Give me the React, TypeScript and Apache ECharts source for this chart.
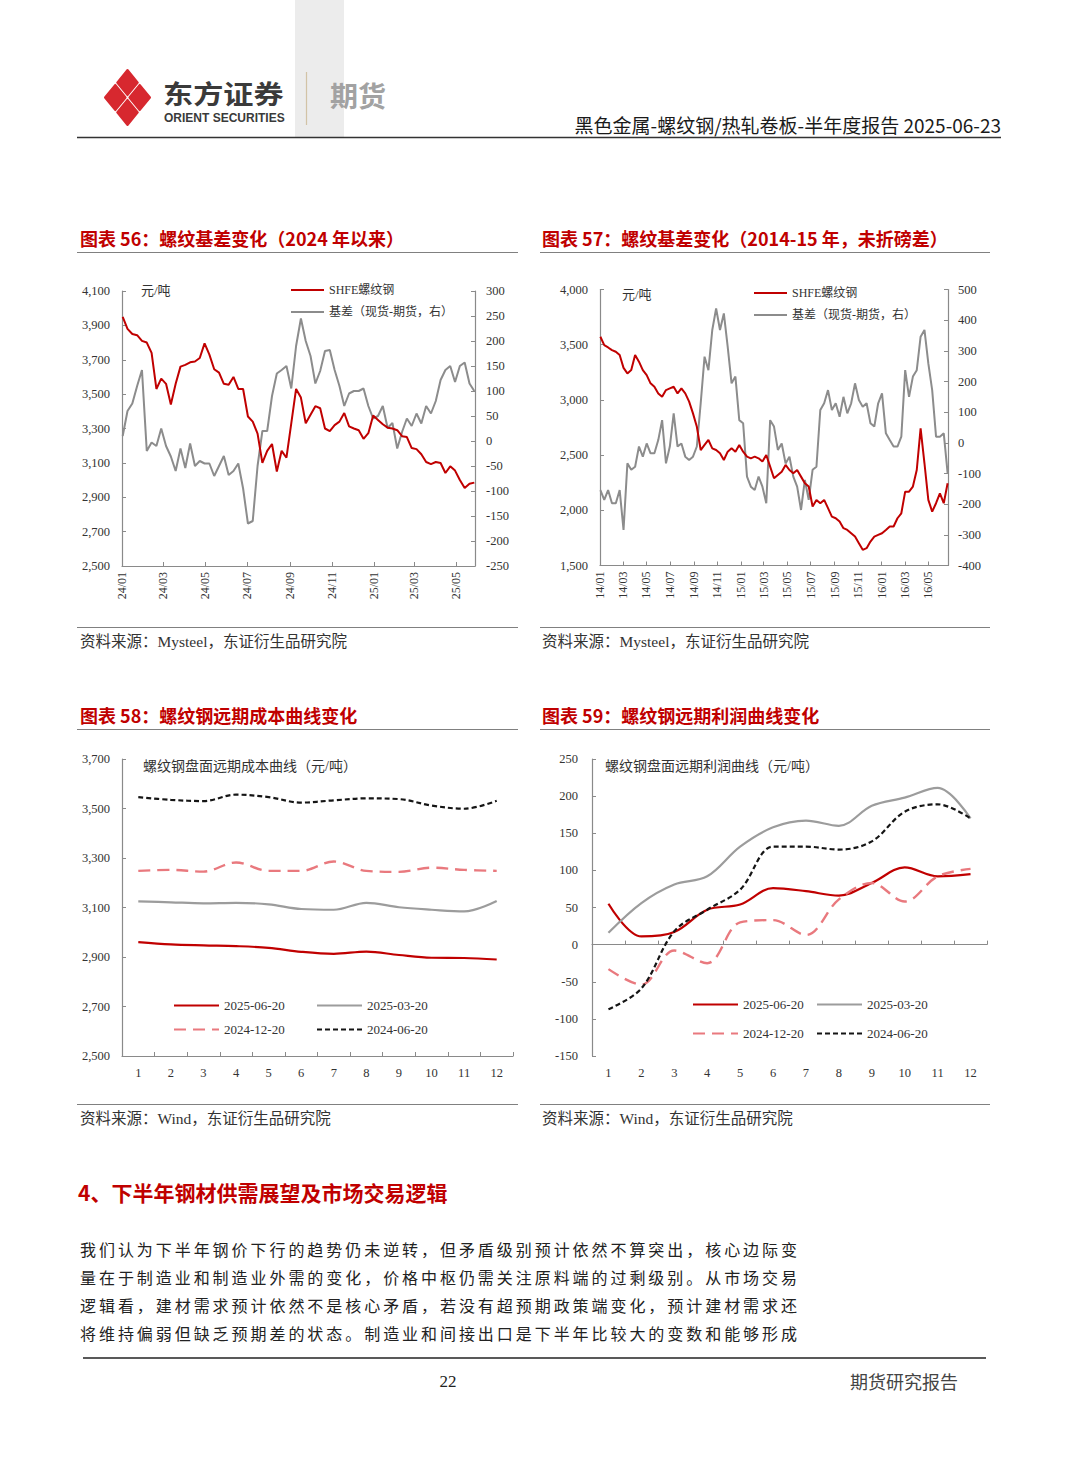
import React, { useEffect, useRef } from 'react';
import * as echarts from 'echarts';

const SERIF = "'Liberation Serif', 'Noto Sans CJK SC', serif";
const CJK = "'Noto Sans CJK SC', sans-serif";
const RED = '#C00000';
const GREY = '#8C8C8C';
const LIGHT_GREY = '#9C9C9C';
const PINK = '#E9797E';
const BLACK = '#151515';
const AXIS = '#8A8A8A';

// ---------- 图表56 (weekly, from 2024-01-02) ----------
const shfe56 = [3950,3880,3850,3843,3810,3800,3740,3530,3590,3560,
  3440,3560,3660,3670,3685,3690,3710,3795,3730,3645,
  3625,3560,3555,3600,3530,3530,3370,3340,3270,3100,
  3170,3210,3050,3170,3130,3330,3530,3480,3330,3380,
  3430,3418,3300,3285,3320,3340,3390,3312,3300,3290,
  3240,3273,3375,3350,3325,3305,3300,3290,3255,3250,
  3186,3180,3150,3105,3093,3105,3099,3041,3080,3055,
  3000,2954,2978,2985];
const basis56 = [10,60,75,110,142,-20,-3,-10,25,-10,
  -31,-60,-15,-54,-5,-50,-40,-45,-45,-70,
  -50,-30,-68,-60,-45,-95,-165,-160,-50,20,
  20,90,135,142,150,105,190,245,200,170,
  115,140,180,182,142,110,70,95,100,100,
  105,70,45,50,70,26,36,-15,18,45,
  30,55,35,70,55,80,122,142,150,118,
  150,157,115,100];
const ticks56 = ['2024-01','2024-03','2024-05','2024-07','2024-09','2024-11','2025-01','2025-03','2025-05'];

// ---------- 图表57 (every 10 days, from 2014-01-02) ----------
const shfe57 = [3572,3496,3475,3451,3436,3406,3290,3240,3270,3406,
  3346,3270,3225,3150,3119,3059,3029,3089,3104,3119,
  3059,3104,3059,2984,2878,2757,2546,2592,2637,2561,
  2546,2516,2456,2531,2561,2531,2592,2531,2486,2471,
  2486,2471,2441,2501,2396,2290,2320,2350,2411,2365,
  2335,2365,2305,2245,2215,2034,2094,2064,2094,2019,
  1943,1928,1898,1838,1822,1792,1762,1702,1642,1657,
  1717,1762,1777,1792,1822,1853,1853,1928,1973,2169,
  2169,2215,2365,2742,2426,2094,1988,2064,2154,2064,2245];
const basis57 = [-154,-186,-154,-197,-197,-154,-284,-67,-88,-78,
  -12,-45,-2,-34,-34,9,74,-67,-12,96,
  -12,-2,-45,-56,-45,-12,129,281,237,368,
  438,368,422,313,194,216,74,64,-110,-143,
  -154,-110,-143,-197,74,53,-23,-2,-67,-45,
  -110,-143,-219,-121,-186,-88,-78,107,129,172,
  107,129,85,150,96,129,194,140,118,129,
  64,53,129,161,31,9,-12,-12,20,237,
  150,216,237,346,368,259,172,20,20,31,-99];
const ticks57 = ['2014-01','2014-03','2014-05','2014-07','2014-09','2014-11','2015-01','2015-03','2015-05','2015-07','2015-09','2015-11','2016-01','2016-03','2016-05'];

// ---------- 图表58 / 59 ----------
const months = ['1','2','3','4','5','6','7','8','9','10','11','12'];
const curveNames = ['2025-06-20','2025-03-20','2024-12-20','2024-06-20'];
const cost20250620 = [2960,2951,2947,2944,2937,2921,2913,2922,2908,2897,2896,2890];
const cost20250320 = [3125,3121,3117,3119,3113,3094,3091,3119,3101,3091,3084,3126];
const cost20241220 = [3248,3252,3245,3282,3248,3248,3286,3248,3244,3261,3252,3248];
const cost20240620 = [3546,3535,3530,3556,3546,3524,3533,3541,3538,3512,3499,3531];
const profit20250620 = [55,11,17,47,54,76,72,66,83,104,92,95];
const profit20250320 = [16,56,81,92,132,158,167,160,187,198,211,170];
const profit20241220 = [-33,-54,-8,-25,30,33,13,61,83,58,92,102];
const profit20240620 = [-87,-59,18,47,74,132,132,128,139,179,189,170];

const paragraph = [
  '我们认为下半年钢价下行的趋势仍未逆转，但矛盾级别预计依然不算突出，核心边际变',
  '量在于制造业和制造业外需的变化，价格中枢仍需关注原料端的过剩级别。从市场交易',
  '逻辑看，建材需求预计依然不是核心矛盾，若没有超预期政策端变化，预计建材需求还',
  '将维持偏弱但缺乏预期差的状态。制造业和间接出口是下半年比较大的变数和能够形成',
];

const pad = (n: number) => (n < 10 ? '0' + n : '' + n);
function makeDates(y: number, m: number, d: number, step: number, n: number) {
  const out: string[] = [];
  for (let i = 0; i < n; i++) {
    const dt = new Date(y, m, d + i * step);
    out.push(`${dt.getFullYear()}-${pad(dt.getMonth() + 1)}-${pad(dt.getDate())}`);
  }
  return out;
}
const dayTs = (s: string) => {
  const [y, m, d] = s.split('-').map(Number);
  return new Date(y, m - 1, d || 1).getTime();
};
const fmtComma = (v: number) => v.toLocaleString('en-US');
const fmtYM = (v: number) => {
  const d = new Date(v);
  return String(d.getFullYear()).slice(2) + '/' + pad(d.getMonth() + 1);
};

const labelStyle = { fontFamily: SERIF, fontSize: 12.5, color: '#333' };

function valueAxis(gridIndex: number, position: string, min: number, max: number, interval: number, margin: number, comma: boolean) {
  const ax: any = {
    type: 'value', gridIndex, position, min, max, interval,
    axisLine: { show: true, onZero: false, lineStyle: { color: AXIS, width: 1.2 } },
    axisTick: { show: true, inside: true, length: 4, lineStyle: { color: AXIS } },
    splitLine: { show: false },
    axisLabel: { ...labelStyle, margin },
  };
  if (comma) ax.axisLabel.formatter = fmtComma;
  return ax;
}

// date axis drawn as a value axis of timestamps, ticks at month starts
function dateAxis(gridIndex: number, min: number, max: number, ticks: string[]) {
  const vals = ticks.map(dayTs);
  return {
    type: 'value', gridIndex, min, max, scale: true,
    axisLine: { show: true, onZero: false, lineStyle: { color: AXIS, width: 1.2 } },
    axisTick: { show: true, inside: true, length: 4, customValues: vals, lineStyle: { color: AXIS } },
    splitLine: { show: false },
    axisLabel: { ...labelStyle, fontSize: 12, rotate: 90, margin: 6, customValues: vals, formatter: fmtYM, hideOverlap: false },
  };
}

function legendItem(name: string, left: number, top: number, w: number, fontSize: number) {
  return {
    data: [name], left, top, orient: 'horizontal', padding: 0, itemGap: 0,
    itemWidth: w, itemHeight: 10, itemStyle: { opacity: 0 }, selectedMode: false,
    textStyle: { fontFamily: SERIF, fontSize, color: '#333' },
  };
}

function txt(text: string, x: number, y: number, fontSize: number, fill: string, opts: any = {}) {
  return {
    type: 'text', x, y, silent: true, scaleX: opts.scaleX || 1,
    style: {
      text, fontSize, fill,
      fontFamily: opts.fontFamily || CJK,
      fontWeight: opts.fontWeight || 'normal',
      align: opts.align || 'left',
      verticalAlign: 'middle',
    },
  };
}
function hline(x1: number, x2: number, y: number, stroke: string, lineWidth: number) {
  return { type: 'line', silent: true, shape: { x1, y1: y, x2, y2: y }, style: { stroke, lineWidth } };
}
function diamond(cx: number, cy: number, hw: number, hh: number, fill: string) {
  return {
    type: 'polygon', silent: true,
    shape: { points: [[cx, cy - hh], [cx + hw, cy], [cx, cy + hh], [cx - hw, cy]] },
    style: { fill, stroke: fill, lineWidth: 2, lineJoin: 'round' },
  };
}

function buildOption(): any {
  const d56 = makeDates(2024, 0, 2, 7, shfe56.length);
  const d57 = makeDates(2014, 0, 2, 10, shfe57.length);
  const pair = (dates: string[], vals: number[]) => dates.map((d, i) => [dayTs(d), vals[i]]);

  const logoRed = '#D7282F';
  const lcx = 127.5, lcy = 97.5;
  const graphics: any[] = [
    { type: 'rect', silent: true, shape: { x: 295, y: 0, width: 49, height: 137 }, style: { fill: '#ECECEC' } },
    diamond(lcx, lcy - 14.9, 10.3, 12.6, logoRed),
    diamond(lcx, lcy + 14.9, 10.3, 12.6, logoRed),
    diamond(lcx - 12.2, lcy, 10.3, 12.6, logoRed),
    diamond(lcx + 12.2, lcy, 10.3, 12.6, logoRed),
    txt('东方证券', 163, 92.5, 26, '#3A3A3A', { fontWeight: 'bold', scaleX: 1.16 }),
    txt('ORIENT SECURITIES', 164, 118, 12, '#3A3A3A', { fontWeight: 'bold', fontFamily: "'Liberation Sans', Arial, sans-serif" }),
    { type: 'line', silent: true, shape: { x1: 306.5, y1: 72, x2: 306.5, y2: 125 }, style: { stroke: '#D2C3A6', lineWidth: 1.2 } },
    txt('期货', 330, 95, 28, '#A2A2A2', { fontWeight: 'bold' }),
    txt('黑色金属-螺纹钢/热轧卷板-半年度报告 2025-06-23', 1001, 124, 19, '#1A1A1A', { align: 'right' }),
    hline(77, 1001, 137.5, '#333', 1.5),

    txt('图表 56：螺纹基差变化（2024 年以来）', 80, 238, 18, RED, { fontWeight: 'bold' }),
    txt('图表 57：螺纹基差变化（2014-15 年，未折磅差）', 542, 238, 18, RED, { fontWeight: 'bold' }),
    hline(77, 518, 252.5, '#808080', 1.2),
    hline(540, 990, 252.5, '#808080', 1.2),
    hline(77, 518, 627.5, '#808080', 1.2),
    hline(540, 990, 627.5, '#808080', 1.2),
    txt('资料来源：Mysteel，东证衍生品研究院', 80, 641, 15.5, '#333', { fontFamily: SERIF }),
    txt('资料来源：Mysteel，东证衍生品研究院', 542, 641, 15.5, '#333', { fontFamily: SERIF }),
    txt('元/吨', 141, 290, 13, '#333', { fontFamily: SERIF }),
    txt('元/吨', 622, 294, 13, '#333', { fontFamily: SERIF }),

    txt('图表 58：螺纹钢远期成本曲线变化', 80, 715, 18, RED, { fontWeight: 'bold' }),
    txt('图表 59：螺纹钢远期利润曲线变化', 542, 715, 18, RED, { fontWeight: 'bold' }),
    hline(77, 518, 729.5, '#808080', 1.2),
    hline(540, 990, 729.5, '#808080', 1.2),
    hline(77, 518, 1104.5, '#808080', 1.2),
    hline(540, 990, 1104.5, '#808080', 1.2),
    txt('资料来源：Wind，东证衍生品研究院', 80, 1118, 15.5, '#333', { fontFamily: SERIF }),
    txt('资料来源：Wind，东证衍生品研究院', 542, 1118, 15.5, '#333', { fontFamily: SERIF }),
    txt('螺纹钢盘面远期成本曲线（元/吨）', 143, 766, 14, '#333', { fontFamily: SERIF }),
    txt('螺纹钢盘面远期利润曲线（元/吨）', 605, 766, 14, '#333', { fontFamily: SERIF }),

    txt('4、下半年钢材供需展望及市场交易逻辑', 78, 1192, 21, RED, { fontWeight: 'bold' }),
    hline(83, 986, 1358, '#222', 1.5),
    txt('22', 448, 1381, 17, '#222', { fontFamily: SERIF, align: 'center' }),
    txt('期货研究报告', 850, 1381, 18, '#444'),
  ];

  const curveStyle = [
    { color: RED, width: 2.2, type: 'solid' },
    { color: LIGHT_GREY, width: 2.2, type: 'solid' },
    { color: PINK, width: 2.4, type: [12, 7] },
    { color: BLACK, width: 2.2, type: [5, 3] },
  ];
  const costs = [cost20250620, cost20250320, cost20241220, cost20240620];
  const profits = [profit20250620, profit20250320, profit20241220, profit20240620];

  const series: any[] = [
    { name: '基差（现货-期货，右）', type: 'line', xAxisIndex: 0, yAxisIndex: 1, data: pair(d56, basis56), symbol: 'none', lineStyle: { color: GREY, width: 2 }, itemStyle: { color: GREY } },
    { name: 'SHFE螺纹钢', type: 'line', xAxisIndex: 0, yAxisIndex: 0, data: pair(d56, shfe56), symbol: 'none', lineStyle: { color: RED, width: 2 }, itemStyle: { color: RED } },
    { name: '基差（现货-期货，右）', type: 'line', xAxisIndex: 1, yAxisIndex: 3, data: pair(d57, basis57), symbol: 'none', lineStyle: { color: GREY, width: 2 }, itemStyle: { color: GREY } },
    { name: 'SHFE螺纹钢', type: 'line', xAxisIndex: 1, yAxisIndex: 2, data: pair(d57, shfe57), symbol: 'none', lineStyle: { color: RED, width: 2 }, itemStyle: { color: RED } },
  ];
  curveNames.forEach((n, i) => {
    series.push({ name: n, type: 'line', xAxisIndex: 2, yAxisIndex: 4, data: costs[i], smooth: 0.35, symbol: 'none', lineStyle: curveStyle[i], itemStyle: { color: curveStyle[i].color } });
  });
  curveNames.forEach((n, i) => {
    series.push({ name: n, type: 'line', xAxisIndex: 3, yAxisIndex: 5, data: profits[i], smooth: 0.35, symbol: 'none', lineStyle: curveStyle[i], itemStyle: { color: curveStyle[i].color } });
  });

  const catAxisBase = { type: 'category', data: months, boundaryGap: true };

  return {
    animation: false,
    backgroundColor: '#fff',
    grid: [
      { left: 122, top: 291, width: 353, height: 275 },
      { left: 600, top: 289.5, width: 348, height: 276 },
      { left: 122, top: 759, width: 391, height: 297 },
      { left: 592, top: 759, width: 395, height: 297 },
    ],
    xAxis: [
      dateAxis(0, dayTs('2024-01-01'), dayTs('2025-05-28'), ticks56),
      dateAxis(1, dayTs('2014-01-01'), dayTs('2016-06-21'), ticks57),
      { ...catAxisBase, gridIndex: 2,
        axisLine: { show: true, onZero: false, lineStyle: { color: AXIS, width: 1.2 } },
        axisTick: { show: true, inside: true, length: 4, interval: 0, lineStyle: { color: AXIS } },
        axisLabel: { ...labelStyle, margin: 11, interval: 0 } },
      { ...catAxisBase, gridIndex: 3, position: 'bottom',
        axisLine: { show: false, onZero: false },
        axisTick: { show: false },
        axisLabel: { ...labelStyle, margin: 11, interval: 0 } },
      { ...catAxisBase, gridIndex: 3, position: 'bottom',
        axisLine: { show: true, onZero: true, lineStyle: { color: AXIS, width: 1.2 } },
        axisTick: { show: true, inside: true, length: 4, interval: 0, lineStyle: { color: AXIS } },
        axisLabel: { show: false } },
    ],
    yAxis: [
      valueAxis(0, 'left', 2500, 4100, 200, 12, true),
      valueAxis(0, 'right', -250, 300, 50, 11, false),
      valueAxis(1, 'left', 1500, 4000, 500, 12, true),
      valueAxis(1, 'right', -400, 500, 100, 10, false),
      valueAxis(2, 'left', 2500, 3700, 200, 12, true),
      valueAxis(3, 'left', -150, 250, 50, 14, false),
    ],
    legend: [
      legendItem('SHFE螺纹钢', 290, 284, 33, 12),
      legendItem('基差（现货-期货，右）', 290, 306, 33, 12),
      legendItem('SHFE螺纹钢', 753, 287, 33, 12),
      legendItem('基差（现货-期货，右）', 753, 309, 33, 12),
      legendItem('2025-06-20', 173, 999, 45, 13),
      legendItem('2025-03-20', 316, 999, 45, 13),
      legendItem('2024-12-20', 173, 1023, 45, 13),
      legendItem('2024-06-20', 316, 1023, 45, 13),
      legendItem('2025-06-20', 692, 998, 45, 13),
      legendItem('2025-03-20', 816, 998, 45, 13),
      legendItem('2024-12-20', 692, 1027, 45, 13),
      legendItem('2024-06-20', 816, 1027, 45, 13),
    ],
    graphic: graphics,
    series,
  };
}

export default function App() {
  const ref = useRef<HTMLDivElement>(null);
  useEffect(() => {
    const chart = echarts.init(ref.current as HTMLDivElement, undefined, { renderer: 'svg' });
    chart.setOption(buildOption());
    return () => chart.dispose();
  }, []);
  return (
    <div style={{ position: 'absolute', left: 0, top: 0, width: 1080, height: 1466, background: '#fff', overflow: 'hidden' }}>
      <div ref={ref} style={{ position: 'absolute', left: 0, top: 0, width: 1080, height: 1466 }} />
      <div style={{ position: 'absolute', left: 80, top: 1235, width: 717, fontFamily: CJK, fontSize: 16, lineHeight: '28px', color: '#222' }}>
        {paragraph.map((t, i) => (
          <div key={i} style={{ height: 28, textAlign: 'justify', textAlignLast: 'justify' }}>{t}</div>
        ))}
      </div>
    </div>
  );
}
